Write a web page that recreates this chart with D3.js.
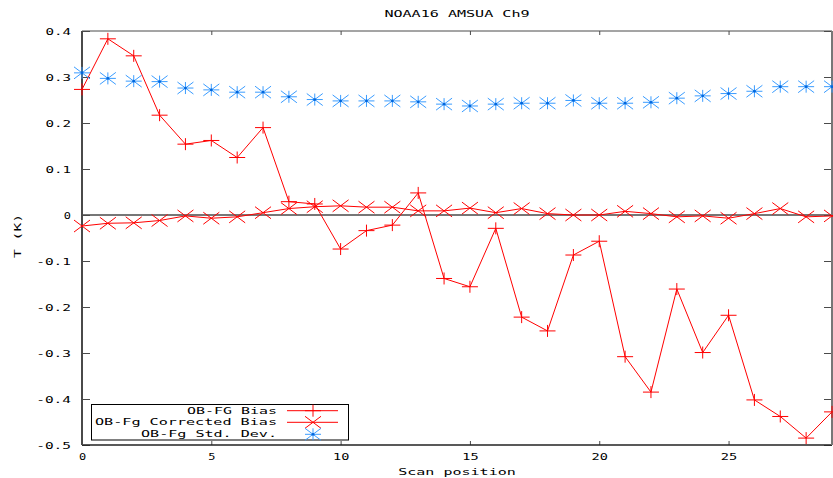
<!DOCTYPE html>
<html>
<head>
<meta charset="utf-8">
<script src="https://cdn.jsdelivr.net/npm/d3@7"></script>
<style>
  html, body { margin: 0; padding: 0; background: #fff; }
  svg { display: block; }
  text { font-family: "DejaVu Sans Mono", "Liberation Mono", monospace; font-size: 8.5px; fill: #000; }
</style>
</head>
<body>
<svg id="chart" width="833" height="478"></svg>
<script>
// Scan positions of the AMSU-A instrument
const scanPos = d3.range(0, 30);

// OB-FG bias per scan position (K)
const biasValues = [0.273, 0.383, 0.346, 0.217, 0.154, 0.162, 0.125, 0.190, 0.029, 0.024,
  -0.074, -0.034, -0.022, 0.048, -0.138, -0.156, -0.029, -0.222, -0.252, -0.087,
  -0.057, -0.308, -0.385, -0.161, -0.299, -0.218, -0.402, -0.438, -0.485, -0.428];

// OB-Fg bias after correction (K)
const correctedValues = [-0.024, -0.018, -0.017, -0.012, -0.002, -0.007, -0.004, 0.005, 0.014, 0.018,
  0.020, 0.017, 0.017, 0.009, 0.009, 0.015, 0.005, 0.014, 0.003, 0.000,
  0.000, 0.008, 0.003, -0.004, -0.002, -0.007, 0.003, 0.014, -0.004, -0.002];

// OB-Fg standard deviation (K)
const stdValues = [0.309, 0.297, 0.291, 0.290, 0.276, 0.272, 0.267, 0.267, 0.257, 0.251,
  0.248, 0.248, 0.248, 0.246, 0.241, 0.237, 0.241, 0.243, 0.243, 0.249,
  0.243, 0.243, 0.245, 0.254, 0.259, 0.264, 0.269, 0.279, 0.279, 0.279];

const yTicks = [-0.5, -0.4, -0.3, -0.2, -0.1, 0, 0.1, 0.2, 0.3, 0.4];
const yTickLabels = ["-0.5", "-0.4", "-0.3", "-0.2", "-0.1", "0", "0.1", "0.2", "0.3", "0.4"];
const xTicks = [0, 5, 10, 15, 20, 25];
const legendNames = ["OB-FG Bias", "OB-Fg Corrected Bias", "OB-Fg Std. Dev."];

const titleText = "NOAA16 AMSUA Ch9";
const xLabel = "Scan position";
const yLabel = "T (K)";

const svg = d3.select("#chart");
const plotL = 82, plotR = 832, plotT = 31, plotB = 445;

const x = d3.scaleLinear().domain([0, 29]).range([plotL, plotR]);
const y = d3.scaleLinear().domain([-0.5, 0.4]).range([plotB, plotT]);

// the bitmap-style font is wide: stretch every label to a fixed advance per char
const CH = 9.2;
function stretch(sel) {
  sel.each(function () {
    const t = d3.select(this).text();
    if (t.length) d3.select(this).attr("textLength", t.length * CH - 2).attr("lengthAdjust", "spacingAndGlyphs");
  });
}

const RED = "#ff0000", BLUE = "#3a9cff", BLUE_DARK = "#0066dd", AXIS = "#4a4a4a";

// zero axis
svg.append("line")
  .attr("x1", x(0)).attr("x2", x(29)).attr("y1", y(0)).attr("y2", y(0))
  .attr("stroke", AXIS).attr("stroke-width", 1.5);

// axes with inward ticks
const yMap = new Map(yTicks.map((v, i) => [v, yTickLabels[i]]));
const gLeft = svg.append("g").attr("transform", `translate(${plotL},0)`)
  .call(d3.axisLeft(y).tickValues(yTicks).tickSizeInner(-8).tickSizeOuter(0).tickPadding(11)
    .tickFormat(d => yMap.get(d)));
const gRight = svg.append("g").attr("transform", `translate(${plotR},0)`)
  .call(d3.axisRight(y).tickValues(yTicks).tickSizeInner(-8).tickSizeOuter(0).tickFormat(""));
const gBottom = svg.append("g").attr("transform", `translate(0,${plotB})`)
  .call(d3.axisBottom(x).tickValues(xTicks).tickSizeInner(-4).tickSizeOuter(0).tickPadding(9));
const gTop = svg.append("g").attr("transform", `translate(0,${plotT})`)
  .call(d3.axisTop(x).tickValues(xTicks).tickSizeInner(-4).tickSizeOuter(0).tickFormat(""));

[gLeft, gRight, gBottom, gTop].forEach(g => {
  g.select(".domain").remove();
  g.selectAll(".tick line").attr("stroke", AXIS).attr("stroke-width", 1);
  g.selectAll("text").attr("font-family", null).attr("font-size", null).attr("fill", "#000").call(stretch);
});
gLeft.selectAll("text").attr("dy", "0.36em");

// frame
svg.append("line").attr("x1", plotL).attr("x2", plotR).attr("y1", plotT).attr("y2", plotT)
  .attr("stroke", AXIS).attr("stroke-width", 1);
svg.append("line").attr("x1", plotL).attr("x2", plotR).attr("y1", plotB).attr("y2", plotB)
  .attr("stroke", "#222").attr("stroke-width", 1.5);
svg.append("line").attr("x1", plotL).attr("x2", plotL).attr("y1", plotT).attr("y2", plotB)
  .attr("stroke", AXIS).attr("stroke-width", 2);
svg.append("line").attr("x1", plotR).attr("x2", plotR).attr("y1", plotT).attr("y2", plotB)
  .attr("stroke", "#777").attr("stroke-width", 2);

// marker shapes
const plusPath = "M-8,0H8M0,-6V6";
const crossPath = "M-8,-6L8,6M-8,6L8,-6";

const line = d3.line().x((d, i) => x(scanPos[i])).y(d => y(d));

// OB-FG bias
svg.append("path").datum(biasValues).attr("d", line)
  .attr("fill", "none").attr("stroke", RED).attr("stroke-width", 1);
svg.append("g").selectAll("path").data(biasValues).join("path")
  .attr("transform", (d, i) => `translate(${x(scanPos[i])},${y(d)})`)
  .attr("d", plusPath).attr("stroke", RED).attr("stroke-width", 1).attr("fill", "none");

// corrected bias
svg.append("path").datum(correctedValues).attr("d", line)
  .attr("fill", "none").attr("stroke", RED).attr("stroke-width", 1);
svg.append("g").selectAll("path").data(correctedValues).join("path")
  .attr("transform", (d, i) => `translate(${x(scanPos[i])},${y(d)})`)
  .attr("d", crossPath).attr("stroke", RED).attr("stroke-width", 1).attr("fill", "none");

// std. dev. (points only)
function star(g) {
  g.append("path").attr("d", plusPath + crossPath).attr("stroke", BLUE).attr("stroke-width", 1).attr("fill", "none");
  g.append("circle").attr("r", 1.4).attr("fill", BLUE_DARK);
}
svg.append("g").selectAll("g").data(stdValues).join("g")
  .attr("transform", (d, i) => `translate(${x(scanPos[i])},${y(d)})`)
  .each(function () { star(d3.select(this)); });

// title and axis labels
svg.append("text").attr("x", (plotL + plotR) / 2).attr("y", 17).attr("text-anchor", "middle")
  .text(titleText).call(stretch);
svg.append("text").attr("x", (plotL + plotR) / 2).attr("y", 475).attr("text-anchor", "middle")
  .text(xLabel).call(stretch);
svg.append("text").attr("transform", "translate(21,236) rotate(-90)").attr("text-anchor", "middle")
  .text(yLabel).call(stretch);

// legend
const lg = svg.append("g");
lg.append("rect").attr("x", 91.5).attr("y", 404.5).attr("width", 257).attr("height", 35.5)
  .attr("fill", "#fff").attr("stroke", "#000").attr("stroke-width", 1);
const rowY = [410.7, 422.3, 434.3];
legendNames.forEach((name, i) => {
  lg.append("text").attr("x", 277).attr("y", rowY[i]).attr("dy", "0.36em")
    .attr("text-anchor", "end").text(name).call(stretch);
  const mg = lg.append("g").attr("transform", `translate(313,${rowY[i]})`);
  if (i < 2) {
    lg.append("line").attr("x1", 287).attr("x2", 338).attr("y1", rowY[i]).attr("y2", rowY[i])
      .attr("stroke", RED).attr("stroke-width", 1);
    mg.append("path").attr("d", i === 0 ? plusPath : crossPath).attr("stroke", RED).attr("fill", "none");
  } else {
    star(mg);
  }
});
</script>
</body>
</html>
